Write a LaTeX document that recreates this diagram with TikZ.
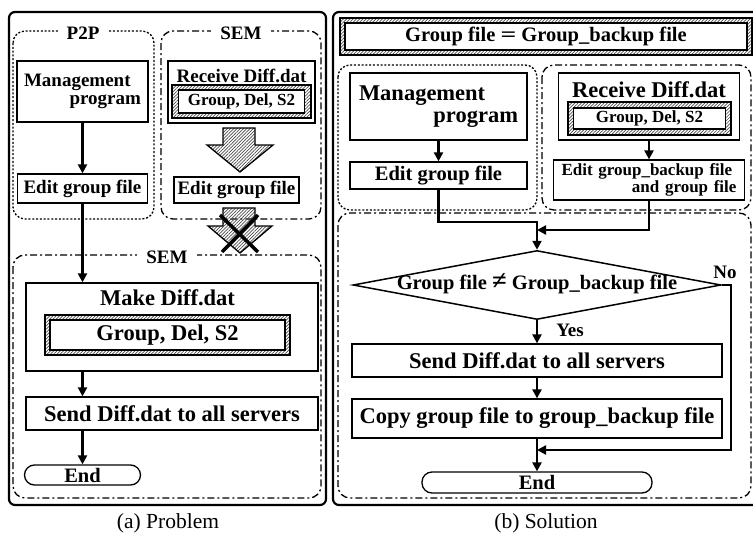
\documentclass[tikz,border=0pt]{standalone}
\usepackage{fontspec}
\setmainfont{Liberation Serif}
\usetikzlibrary{arrows.meta}
\usetikzlibrary{patterns.meta}
\usetikzlibrary{shapes.geometric}

\newcommand{\fsmall}{\fontsize{17}{17}\selectfont\bfseries}
\newcommand{\fmid}{\fontsize{19}{18}\selectfont\bfseries}
\newcommand{\fnorm}{\fontsize{20.5}{21}\selectfont\bfseries}
\newcommand{\fbig}{\fontsize{22.5}{22}\selectfont\bfseries}
\newcommand{\fcap}{\fontsize{21.5}{22}\selectfont}

\begin{document}
\begin{tikzpicture}[x=1pt, y=-1pt,
    >={Triangle[length=9pt,width=9pt]},
    box/.style={draw, line width=1.3pt, fill=white, inner sep=0pt},
    hatch/.style={draw, line width=1.3pt, pattern={Lines[angle=45, distance=2.3pt, line width=0.7pt]}, pattern color=black!70},
    panel/.style={draw, line width=2.2pt, rounded corners=6pt},
    p2pzone/.style={draw, line width=1.3pt, dash pattern=on 2pt off 1.8pt, rounded corners=12pt},
    semzone/.style={draw, line width=1.3pt, dash pattern=on 7pt off 3pt on 2pt off 3pt, rounded corners=12pt},
    zonelabel/.style={fill=white, inner xsep=9pt, inner ysep=1pt, font=\fmid},
    flow/.style={->, line width=2.2pt},
    cross/.style={line width=3.5pt}]
\useasboundingbox (0,0) rectangle (753,538);
\clip (0,0) rectangle (753,538);

% (a) Problem
\draw[panel] (9,12) rectangle (326,505);
\draw[p2pzone] (13,31) rectangle (154,219);
\draw[semzone] (161,31) rectangle (321,219);
\draw[semzone] (13,255) rectangle (321,498);
\node[zonelabel] (l-p2p-lab) at (83,33) {P2P};
\node[zonelabel] (l-sem-lab) at (241,33) {SEM};
\node[zonelabel] (l-sem2-lab) at (167,257) {SEM};

\node[box, minimum width=131pt, minimum height=61pt, font=\fmid, text width=117pt, align=left] (l-mgmt) at (82.5,91.5)
  {Management\\\hspace*{\fill}program};
\node[box, minimum width=130pt, minimum height=29pt, font=\fmid] (l-edit) at (82.5,188.5) {Edit group file};

\node[box, minimum width=147pt, minimum height=62pt] (l-recv) at (241.5,92) {};
\node[font=\fmid] (l-recv-t) at (241.5,76) {Receive Diff.dat};
\draw[hatch] (172,85) rectangle (311,118);
\node[box, minimum width=126pt, minimum height=23pt, font=\fsmall] (l-recv-tag) at (241.5,101.5) {Group, Del, S2};

% 斜线箭头
\draw[hatch] (223,128) -- (255,128) -- (255,145) -- (273,145) -- (240,172) -- (207,145) -- (223,145) -- cycle;
\node[box, minimum width=125pt, minimum height=26pt, font=\fmid] (l-edit2) at (236.5,190) {Edit group file};

% 打叉的箭头
\draw[hatch] (223,208) -- (255,208) -- (255,226) -- (272,226) -- (240,253) -- (208,226) -- (223,226) -- cycle;
\draw[cross] (220,215) -- (258,252);
\draw[cross] (258,215) -- (222,252);

\node[box, minimum width=292pt, minimum height=88pt] (l-make) at (172,327) {};
\node[font=\fbig] (l-make-t) at (167.5,298) {Make Diff.dat};
\draw[hatch] (45,315) rectangle (290,355);
\node[box, minimum width=235pt, minimum height=30pt, font=\fbig] (l-make-tag) at (167.5,335) {Group, Del, S2};
\node[box, minimum width=292pt, minimum height=33pt, font=\fbig] (l-send) at (172,413.5) {Send Diff.dat to all servers};
\node[box, rounded corners=10pt, minimum width=116pt, minimum height=20pt, font=\fnorm] (l-end) at (82.5,475) {End};

\draw[flow] (l-mgmt.south) -- (l-edit.north);
\draw[flow] (l-edit.south) -- (l-edit.south |- l-make.north);
\draw[flow] (l-make.south -| l-end.north) -- (l-send.north -| l-end.north);
\draw[flow] (l-send.south -| l-end.north) -- (l-end.north);

\node[font=\fcap] (cap-a) at (168,523) {(a) Problem};

% (b) Solution
\draw[panel] (333,12) rectangle (762,505);
\draw[hatch] (340,18) rectangle (752,55);
\node[box, minimum width=402pt, minimum height=27pt, font=\fnorm] (r-banner) at (546,36.5)
  {Group file \scalebox{1.35}[1]{=} Group\_backup file};
\draw[p2pzone] (338,65) rectangle (537,210);
\draw[semzone] (542,65) rectangle (751,210);
\draw[semzone] (338,213) rectangle (751,498);

\node[box, minimum width=177pt, minimum height=67pt, font=\fbig, text width=159pt, align=left] (r-mgmt) at (438.5,106.5)
  {Management\\\hspace*{\fill}program};
\node[box, minimum width=177pt, minimum height=27pt, font=\fnorm] (r-edit) at (438.5,175.5) {Edit group file};

\node[box, minimum width=181pt, minimum height=67pt] (r-recv) at (649,106.5) {};
\node[font=\fbig] (r-recv-t) at (649,90) {Receive Diff.dat};
\draw[hatch] (568,102) rectangle (731,135);
\node[box, minimum width=152pt, minimum height=21pt, font=\fsmall] (r-recv-tag) at (649.5,118.5) {Group, Del, S2};
\node[box, minimum width=191pt, minimum height=40pt, font=\fsmall, text width=175pt, align=left] (r-edit2) at (649,180)
  {Edit group\_backup file\\\hspace*{\fill}and group file};

\node[draw, shape=diamond, line width=1.5pt, inner sep=0pt, minimum width=368pt, minimum height=69pt] (r-dec) at (537,285) {};
\node[font=\fnorm] (r-dec-t) at (537,284) {Group file \scalebox{1.3}{≠} Group\_backup file};
\node[box, minimum width=370pt, minimum height=33pt, font=\fbig] (r-send) at (537,360.5) {Send Diff.dat to all servers};
\node[box, minimum width=370pt, minimum height=39pt, font=\fbig] (r-copy) at (537,418.5) {Copy group file to group\_backup file};
\node[box, rounded corners=10pt, minimum width=230pt, minimum height=21pt, font=\fnorm] (r-end) at (537,482.5) {End};
\node[font=\fmid] (r-no) at (725,272) {No};
\node[font=\fmid] (r-yes) at (570,330) {Yes};

\coordinate (r-join) at (537,222);
\coordinate (r-join2) at (537,230);
\coordinate (r-noside) at (731,285);
\coordinate (r-merge) at (537,450);

\draw[flow] (r-mgmt.south) -- (r-edit.north);
\draw[flow] (r-recv.south) -- (r-edit2.north);
\draw[flow] (r-edit.south) |- (r-join) -- (r-dec.north);
\draw[flow] (r-edit2.south) |- (r-join2);
\draw[flow] (r-dec.south) -- (r-send.north);
\draw[flow] (r-send.south) -- (r-copy.north);
\draw[flow] (r-copy.south) -- (r-end.north);
\draw[flow] (r-dec.east) -- (r-noside) |- (r-merge);

\node[font=\fcap] (cap-b) at (546,523) {(b) Solution};
\end{tikzpicture}
\end{document}
